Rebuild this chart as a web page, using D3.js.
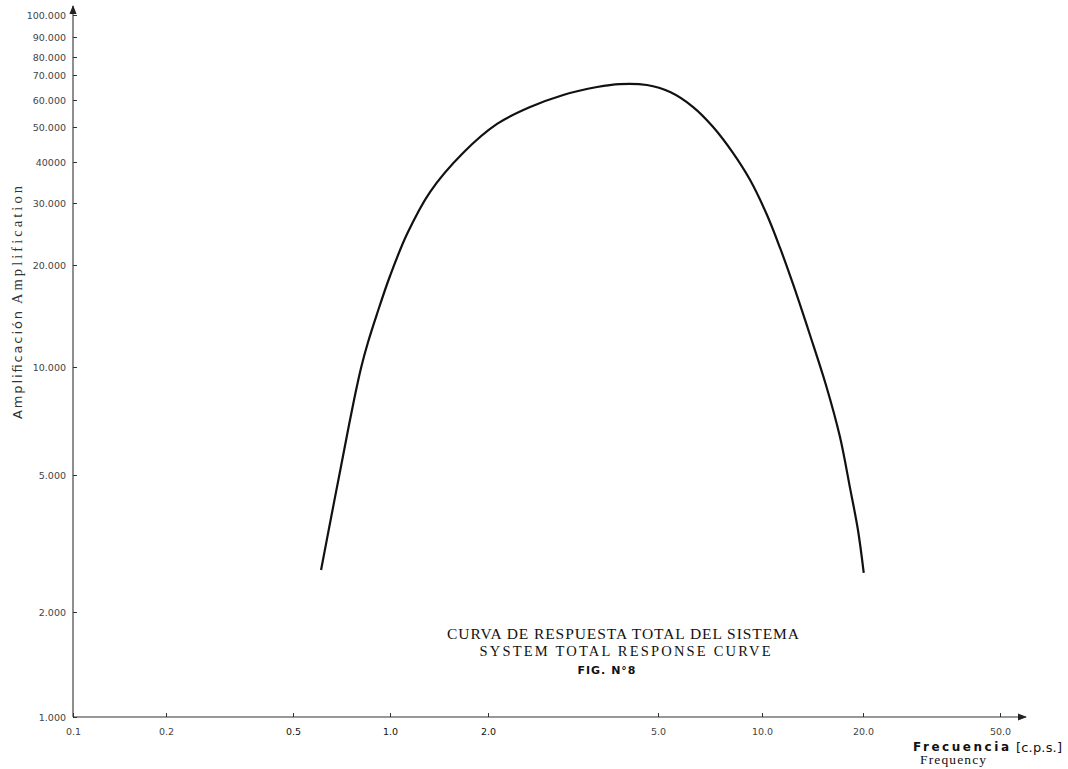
<!DOCTYPE html>
<html>
<head>
<meta charset="utf-8">
<script src="https://cdn.jsdelivr.net/npm/d3@7"></script>
<style>
  body { margin: 0; background: #fff; }
  .tick text { fill: #444; }
</style>
</head>
<body>
<script>
// tick values and labels as printed on the original figure
const freqTicks = [0.1, 0.2, 0.5, 1, 2, 5, 10, 20, 50];
const freqLabels = ['0.1', '0.2', '0.5', '1.0', '2.0', '5.0', '10.0', '20.0', '50.0'];
const ampTicks = [1000, 2000, 5000, 10000, 20000, 30000, 40000, 50000, 60000, 70000, 80000, 90000, 100000];
const ampLabels = ['1.000', '2.000', '5.000', '10.000', '20.000', '30.000', '40000', '50.000', '60.000', '70.000', '80.000', '90.000', '100.000'];

// response curve (c.p.s. / amplification)
const frequency = [0.611, 0.656, 0.705, 0.746, 0.779, 0.813, 0.855, 0.911, 1.0, 1.128, 1.327, 1.676,
                   2.10, 2.51, 3.00, 3.60, 4.07, 4.71, 5.42, 6.32, 7.22, 8.24, 9.23, 10.35, 11.32, 12.37,
                   13.90, 15.51, 17.08, 18.30, 19.32, 20.1];
const amplification = [2650, 3750, 5300, 6890, 8350, 9940, 11850, 14330, 18560, 24490, 32400, 42360,
                       51040, 57200, 61900, 65000, 66200, 65800, 63000, 57200, 50000, 42400, 35300, 27730, 22360, 17580,
                       12430, 8910, 6380, 4580, 3460, 2600];

const w = 1068;
const h = 769;

const svg = d3.select('body')
              .append('svg')
              .attr('width', w)
              .attr('height', h);

// the printed log axes are hand-drawn, so map each tick to where it sits
const xScale = d3.scaleLog()
                 .domain(freqTicks)
                 .range([73, 166, 293, 390, 488, 658, 762, 863, 1000]);

const yScale = d3.scaleLog()
                 .domain(ampTicks)
                 .range([717, 612, 475, 367, 265, 203, 162, 127, 100, 75, 57, 37, 15]);

// arrow heads
svg.append('defs')
   .append('marker')
   .attr('id', 'arrow')
   .attr('viewBox', '0 0 10 10')
   .attr('refX', 9)
   .attr('refY', 5)
   .attr('markerWidth', 9)
   .attr('markerHeight', 9)
   .attr('markerUnits', 'userSpaceOnUse')
   .attr('orient', 'auto')
   .append('path')
   .attr('d', 'M0,1 L10,5 L0,9 Z')
   .attr('fill', '#222');

const xAxis = d3.axisBottom(xScale)
                .tickValues(freqTicks)
                .tickFormat((d, i) => freqLabels[i])
                .tickSizeInner(-4)
                .tickSizeOuter(0)
                .tickPadding(11);

const yAxis = d3.axisLeft(yScale)
                .tickValues(ampTicks)
                .tickFormat((d, i) => ampLabels[i])
                .tickSizeInner(-4)
                .tickSizeOuter(0)
                .tickPadding(7);

const gx = svg.append('g')
              .attr('id', 'x-axis')
              .attr('transform', 'translate(0,' + yScale(1000) + ')')
              .call(xAxis);

const gy = svg.append('g')
              .attr('id', 'y-axis')
              .attr('transform', 'translate(' + xScale(0.1) + ',0)')
              .call(yAxis);

[gx, gy].forEach(g => {
  g.select('.domain').remove();
  g.selectAll('.tick line').attr('stroke', '#333');
  g.selectAll('.tick text')
   .style('font-family', 'DejaVu Sans, sans-serif')
   .style('font-size', '9.5px');
});

// the darker labels in the middle of the x axis
gx.selectAll('.tick text')
  .filter(d => d >= 0.5 && d <= 2)
  .style('fill', '#111');

// axis lines with arrows
svg.append('line')
   .attr('x1', xScale(0.1)).attr('y1', yScale(1000))
   .attr('x2', 1026).attr('y2', yScale(1000))
   .attr('stroke', '#333')
   .attr('stroke-width', 1.1)
   .attr('marker-end', 'url(#arrow)');

svg.append('line')
   .attr('x1', xScale(0.1)).attr('y1', yScale(1000))
   .attr('x2', xScale(0.1)).attr('y2', 6)
   .attr('stroke', '#333')
   .attr('stroke-width', 1.1)
   .attr('marker-end', 'url(#arrow)');

// response curve
const line = d3.line()
               .x(d => xScale(d[0]))
               .y(d => yScale(d[1]))
               .curve(d3.curveCatmullRom.alpha(0.5));

svg.append('path')
   .datum(frequency.map((f, i) => [f, amplification[i]]))
   .attr('d', line)
   .attr('fill', 'none')
   .attr('stroke', '#111')
   .attr('stroke-width', 2.2);

// y axis title, Spanish then English
svg.append('text')
   .attr('transform', 'translate(22,365) rotate(-90)')
   .attr('text-anchor', 'middle')
   .attr('fill', '#333')
   .attr('textLength', 108)
   .style('font-family', 'DejaVu Sans, sans-serif')
   .style('font-size', '13px')
   .text('Amplificación');

svg.append('text')
   .attr('transform', 'translate(22,245) rotate(-90)')
   .attr('text-anchor', 'middle')
   .attr('fill', '#333')
   .attr('textLength', 118)
   .style('font-family', 'Liberation Serif, serif')
   .style('font-size', '14.5px')
   .text('Amplification');

// x axis title
svg.append('text')
   .attr('x', 913)
   .attr('y', 751)
   .attr('fill', '#111')
   .attr('textLength', 96)
   .style('font-family', 'DejaVu Sans, sans-serif')
   .style('font-size', '12px')
   .style('font-weight', 'bold')
   .text('Frecuencia');

svg.append('text')
   .attr('x', 1016)
   .attr('y', 752)
   .attr('fill', '#111')
   .attr('textLength', 46)
   .style('font-family', 'DejaVu Sans, sans-serif')
   .style('font-size', '13px')
   .text('[c.p.s.]');

svg.append('text')
   .attr('x', 920)
   .attr('y', 764)
   .attr('fill', '#111')
   .attr('textLength', 66)
   .style('font-family', 'Liberation Serif, serif')
   .style('font-size', '13.5px')
   .text('Frequency');

// caption
svg.append('text')
   .attr('x', 623)
   .attr('y', 639)
   .attr('text-anchor', 'middle')
   .attr('fill', '#111')
   .attr('textLength', 352)
   .style('font-family', 'Liberation Serif, serif')
   .style('font-size', '15.5px')
   .text('CURVA DE RESPUESTA TOTAL DEL SISTEMA');

svg.append('text')
   .attr('x', 625)
   .attr('y', 656)
   .attr('text-anchor', 'middle')
   .attr('fill', '#111')
   .attr('textLength', 291)
   .style('font-family', 'Liberation Serif, serif')
   .style('font-size', '14.5px')
   .text('SYSTEM TOTAL RESPONSE CURVE');

svg.append('text')
   .attr('x', 607)
   .attr('y', 674)
   .attr('text-anchor', 'middle')
   .attr('fill', '#111')
   .style('font-family', 'DejaVu Sans, sans-serif')
   .style('font-size', '11px')
   .style('font-weight', 'bold')
   .style('letter-spacing', '1px')
   .text('FIG. N°8');
</script>
</body>
</html>
